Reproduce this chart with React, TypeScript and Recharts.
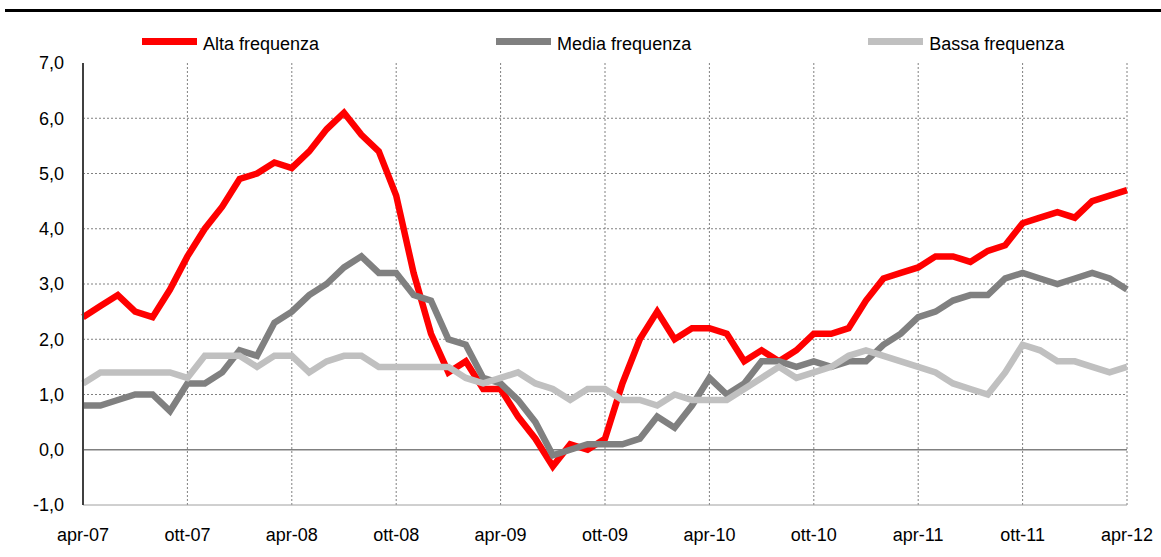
import React from "react";
import {
	LineChart,
	Line,
	XAxis,
	YAxis,
	CartesianGrid,
	ReferenceLine,
	Legend,
} from "recharts";

const months = [
	"apr-07", "mag-07", "giu-07", "lug-07", "ago-07", "set-07", "ott-07", "nov-07", "dic-07",
	"gen-08", "feb-08", "mar-08", "apr-08", "mag-08", "giu-08", "lug-08", "ago-08", "set-08",
	"ott-08", "nov-08", "dic-08", "gen-09", "feb-09", "mar-09", "apr-09", "mag-09", "giu-09",
	"lug-09", "ago-09", "set-09", "ott-09", "nov-09", "dic-09", "gen-10", "feb-10", "mar-10",
	"apr-10", "mag-10", "giu-10", "lug-10", "ago-10", "set-10", "ott-10", "nov-10", "dic-10",
	"gen-11", "feb-11", "mar-11", "apr-11", "mag-11", "giu-11", "lug-11", "ago-11", "set-11",
	"ott-11", "nov-11", "dic-11", "gen-12", "feb-12", "mar-12", "apr-12",
];

const alta = [
	2.4, 2.6, 2.8, 2.5, 2.4, 2.9, 3.5, 4.0, 4.4, 4.9,
	5.0, 5.2, 5.1, 5.4, 5.8, 6.1, 5.7, 5.4, 4.6, 3.2,
	2.1, 1.4, 1.6, 1.1, 1.1, 0.6, 0.2, -0.3, 0.1, 0.0,
	0.2, 1.2, 2.0, 2.5, 2.0, 2.2, 2.2, 2.1, 1.6, 1.8,
	1.6, 1.8, 2.1, 2.1, 2.2, 2.7, 3.1, 3.2, 3.3, 3.5,
	3.5, 3.4, 3.6, 3.7, 4.1, 4.2, 4.3, 4.2, 4.5, 4.6,
	4.7,
];

const media = [
	0.8, 0.8, 0.9, 1.0, 1.0, 0.7, 1.2, 1.2, 1.4, 1.8,
	1.7, 2.3, 2.5, 2.8, 3.0, 3.3, 3.5, 3.2, 3.2, 2.8,
	2.7, 2.0, 1.9, 1.3, 1.2, 0.9, 0.5, -0.1, 0.0, 0.1,
	0.1, 0.1, 0.2, 0.6, 0.4, 0.8, 1.3, 1.0, 1.2, 1.6,
	1.6, 1.5, 1.6, 1.5, 1.6, 1.6, 1.9, 2.1, 2.4, 2.5,
	2.7, 2.8, 2.8, 3.1, 3.2, 3.1, 3.0, 3.1, 3.2, 3.1,
	2.9,
];

const bassa = [
	1.2, 1.4, 1.4, 1.4, 1.4, 1.4, 1.3, 1.7, 1.7, 1.7,
	1.5, 1.7, 1.7, 1.4, 1.6, 1.7, 1.7, 1.5, 1.5, 1.5,
	1.5, 1.5, 1.3, 1.2, 1.3, 1.4, 1.2, 1.1, 0.9, 1.1,
	1.1, 0.9, 0.9, 0.8, 1.0, 0.9, 0.9, 0.9, 1.1, 1.3,
	1.5, 1.3, 1.4, 1.5, 1.7, 1.8, 1.7, 1.6, 1.5, 1.4,
	1.2, 1.1, 1.0, 1.4, 1.9, 1.8, 1.6, 1.6, 1.5, 1.4,
	1.5,
];

const yTicks = [-1, 0, 1, 2, 3, 4, 5, 6, 7];
const gridValues = [1, 2, 3, 4, 5, 6];

const series = [
	{ key: "alta", name: "Alta frequenza", color: "#ff0000" },
	{ key: "media", name: "Media frequenza", color: "#808080" },
	{ key: "bassa", name: "Bassa frequenza", color: "#c0c0c0" },
];

const data = months.map((m, i) => ({
	month: m,
	alta: alta[i],
	media: media[i],
	bassa: bassa[i],
}));

const font = "'Liberation Sans', Arial, sans-serif";

function LegendRow() {
	return (
		<div
			style={{
				display: "flex",
				alignItems: "center",
				paddingLeft: 142,
				gap: 177,
				height: 20,
				fontFamily: font,
				fontSize: 18,
				color: "#000",
			}}
		>
			{series.map((s) => (
				<div key={s.key} style={{ display: "flex", alignItems: "center" }}>
					<span
						style={{
							display: "inline-block",
							width: 55,
							height: 7,
							background: s.color,
							marginRight: 6,
						}}
					/>
					<span style={{ position: "relative", top: 3 }}>{s.name}</span>
				</div>
			))}
		</div>
	);
}

export default function App() {
	return (
		<div
			style={{
				position: "absolute",
				left: 0,
				top: 0,
				width: 1161,
				height: 557,
				background: "#fff",
			}}
		>
			<div
				style={{
					position: "absolute",
					left: 5,
					right: 0,
					top: 9,
					height: 3,
					background: "#000",
				}}
			/>
			<LineChart
				width={1161}
				height={557}
				data={data}
				margin={{ top: 43, right: 34, bottom: 0, left: 0 }}
			>
				<Legend
					verticalAlign="top"
					content={() => <LegendRow />}
					wrapperStyle={{ top: 31, left: 0, width: 1161, height: 20 }}
				/>
				<CartesianGrid
					horizontalValues={gridValues}
					stroke="#808080"
					strokeDasharray="2 2"
				/>
				<XAxis
					dataKey="month"
					interval={5}
					tickLine={false}
					tickSize={0}
					tickMargin={23}
					height={52}
					axisLine={{ stroke: "#a0a0a0", strokeWidth: 1 }}
					tick={{ fontSize: 18, fontFamily: font, fill: "#000" }}
				/>
				<YAxis
					domain={[-1, 7]}
					ticks={yTicks}
					interval={0}
					width={83}
					tickLine={false}
					tickSize={0}
					tickMargin={19}
					axisLine={{ stroke: "#404040", strokeWidth: 2 }}
					tickFormatter={(v) => v.toFixed(1).replace(".", ",")}
					tick={{ fontSize: 18, fontFamily: font, fill: "#000" }}
				/>
				<ReferenceLine y={0} stroke="#808080" strokeWidth={1.5} />
				{series.map((s) => (
					<Line
						key={s.key}
						type="linear"
						dataKey={s.key}
						name={s.name}
						stroke={s.color}
						strokeWidth={6.5}
						dot={false}
						isAnimationActive={false}
					/>
				))}
			</LineChart>
		</div>
	);
}
